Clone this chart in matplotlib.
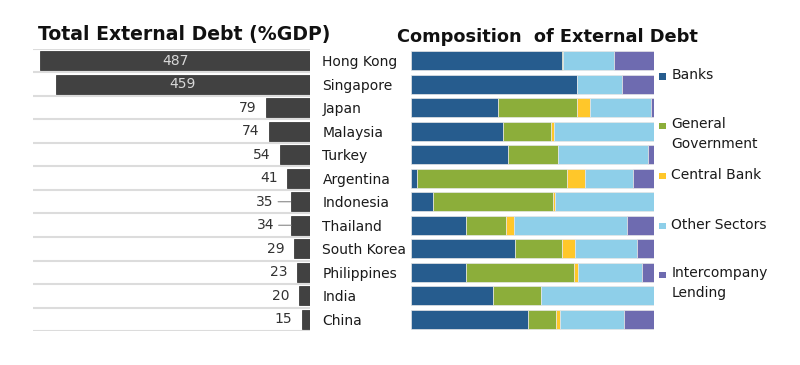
import numpy as np
import matplotlib.pyplot as plt
from matplotlib.patches import Rectangle

# datos
countries = ["Hong Kong", "Singapore", "Japan", "Malaysia", "Turkey", "Argentina",
             "Indonesia", "Thailand", "South Korea", "Philippines", "India", "China"]
debt_gdp = [487, 459, 79, 74, 54, 41, 35, 34, 29, 23, 20, 15]

banks = [62.2, 68.4, 35.6, 37.8, 39.9, 2.3, 8.9, 22.8, 42.8, 22.8, 33.7, 48.0]
general_gov = [0.4, 0.0, 32.7, 19.8, 20.4, 61.8, 49.5, 16.1, 19.5, 44.2, 19.9, 11.8]
central_bank = [0.0, 0.0, 5.2, 1.2, 0.0, 7.7, 0.8, 3.3, 5.1, 1.8, 0.0, 1.4]
other_sectors = [20.9, 18.6, 25.2, 41.1, 37.1, 19.4, 40.7, 46.6, 25.7, 26.3, 46.4, 26.5]
intercompany = [16.5, 13.1, 1.2, 0.0, 2.6, 8.8, 0.0, 11.1, 6.9, 5.0, 0.0, 12.2]

series_names = ["Banks", "General\nGovernment", "Central Bank", "Other Sectors", "Intercompany\nLending"]
series_colors = ["#265c8e", "#8cae3a", "#ffc72a", "#8ecfe9", "#6e6bb0"]

fig = plt.figure(figsize=(8, 3.65), dpi=100)
y = np.arange(len(countries))

# Grafico izquierdo: deuda externa total
ax1 = fig.add_axes([0.041, 0.093, 0.3465, 0.773])
ax1.barh(y, debt_gdp, height=0.82, color="#414141", edgecolor="#2a2a2a", linewidth=0.5, zorder=3)
ax1.set_xlim(500, 0)
ax1.set_ylim(len(countries) - 0.5, -0.5)
for b in np.arange(-0.5, len(countries), 1.0):
    ax1.axhline(b, color="#dcdcdc", linewidth=1.5, zorder=1)
for i, v in enumerate(debt_gdp):
    if v > 200:
        ax1.text(v / 2, i, str(v), ha="center", va="center", color="#d8d8d8", fontsize=10, zorder=4)
    elif countries[i] in ("Indonesia", "Thailand"):
        ax1.annotate(str(v), xy=(v, i), xytext=(-12, 0), textcoords="offset points",
                     ha="right", va="center", color="#333333", fontsize=10,
                     arrowprops=dict(arrowstyle="-", color="#888888", lw=0.8, shrinkA=1, shrinkB=0))
    else:
        ax1.annotate(str(v), xy=(v, i), xytext=(-7, 0), textcoords="offset points",
                     ha="right", va="center", color="#333333", fontsize=10)
ax1.set_xticks([])
ax1.yaxis.tick_right()
ax1.set_yticks(y)
ax1.set_yticklabels(countries, fontsize=10, color="#1a1a1a")
ax1.tick_params(axis="y", length=0, pad=9)
for s in ax1.spines.values():
    s.set_visible(False)
fig.text(0.048, 0.905, "Total External Debt (%GDP)", fontsize=13.6, fontweight="bold",
         color="#111111", va="center")

# Grafico derecho: composicion
ax2 = fig.add_axes([0.51375, 0.093, 0.30375, 0.773])
parts = [banks, general_gov, central_bank, other_sectors, intercompany]
left = np.zeros(len(countries))
for vals, col in zip(parts, series_colors):
    vals = np.array(vals)
    ax2.barh(y, vals, left=left, height=0.82, color=col, edgecolor="#e6e6e6", linewidth=0.5)
    left += vals
ax2.set_xlim(0, 100)
ax2.set_ylim(len(countries) - 0.5, -0.5)
ax2.set_xticks([])
ax2.set_yticks([])
for s in ax2.spines.values():
    s.set_visible(False)
fig.text(0.496, 0.899, "Composition  of External Debt", fontsize=12.8, fontweight="bold",
         color="#111111", va="center")

# Leyenda manual
legend_y = [1 - 76.5 / 365, 1 - 126 / 365, 1 - 176 / 365, 1 - 226 / 365, 1 - 275 / 365]
for name, col, ly in zip(series_names, series_colors, legend_y):
    fig.patches.append(Rectangle((0.8235, ly - 0.0095), 0.0095, 0.019, transform=fig.transFigure,
                                 facecolor=col, edgecolor="none"))
    if "\n" in name:
        fig.text(0.839, ly + 0.024, name, fontsize=10, color="#1a1a1a", va="top", linespacing=1.55)
    else:
        fig.text(0.839, ly + 0.003, name, fontsize=10, color="#1a1a1a", va="center")

fig.savefig("out.png", dpi=100)
